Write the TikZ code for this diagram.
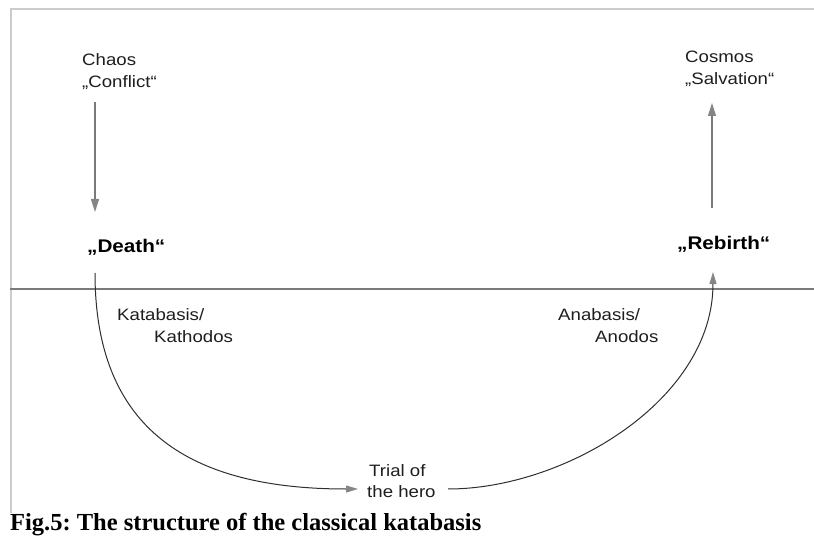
\documentclass[tikz,border=0pt]{standalone}
\usepackage{fontspec}
\setmainfont{Liberation Serif}
\newfontfamily\labfont[FakeStretch=1.13]{Liberation Sans}
\usetikzlibrary{arrows.meta}
\definecolor{framegray}{HTML}{CCCCCC}
\definecolor{linegray}{HTML}{7A7A7A}
\definecolor{tipgray}{HTML}{858585}
\definecolor{curvegray}{HTML}{2E2E2E}
\definecolor{txtgray}{HTML}{1E1E1E}
\frenchspacing
\begin{document}
\begin{tikzpicture}[x=1pt,y=-1pt,
  lbl/.style={font=\labfont\fontsize{16.5}{22}\selectfont, text=txtgray, inner sep=0, anchor=base west},
  bigl/.style={font=\labfont\bfseries\fontsize{18.3}{22}\selectfont, text=black, inner sep=0, anchor=base west},
  captiontext/.style={font=\bfseries\fontsize{24.5}{28}\selectfont, text=black, inner sep=0, anchor=base west},
  straightarrow/.style={draw=linegray, line width=1.2pt, -{Triangle[length=13pt,width=8pt,fill=tipgray,color=tipgray]}},
  curvearrow/.style={draw=curvegray, line width=1pt, -{Triangle[length=12pt,width=7pt,fill=tipgray,color=tipgray]}},
  framestyle/.style={draw=framegray, line width=2pt},
  divider/.style={draw=linegray, line width=1.2pt}]
\useasboundingbox (0,0) rectangle (814,540);
% frame
\draw[framestyle] (814,9.5) -- (10.5,9.5) -- (10.5,513);
% divider
\coordinate (hl) at (10,289);
\coordinate (hr) at (814,289);
\draw[divider] (hl) -- (hr);
% labels
\node[lbl] (chaos) at (82,66) {Chaos};
\node[lbl] (conflict) at (82,88) {„Conflict“};
\node[lbl] (cosmos) at (685,63) {Cosmos};
\node[lbl] (salvation) at (685,85) {„Salvation“};
\node[bigl] (death) at (87,253) {„Death“};
\node[bigl] (rebirth) at (677,250) {„Rebirth“};
\node[lbl] (kata1) at (117,320) {Katabasis/};
\node[lbl] (kata2) at (154,342) {Kathodos};
\node[lbl] (ana1) at (558,320) {Anabasis/};
\node[lbl] (ana2) at (595,342) {Anodos};
\node[lbl] (trial1) at (369,476) {Trial of};
\node[lbl] (trial2) at (367,497) {the hero};
\node[captiontext] (caption) at (10,530) {Fig.5: The structure of the classical katabasis};
% connector end points
\coordinate (chaosout) at (95,102);
\coordinate (deathin) at (95,212);
\coordinate (deathout) at (95,273);
\coordinate (trialin) at (358,489);
\coordinate (trialout) at (448,489);
\coordinate (rebirthin) at (713,272);
\coordinate (rebirthout) at (712,208);
\coordinate (cosmosin) at (712,103);
% connectors
\draw[straightarrow] (chaosout) -- (deathin);
\draw[curvearrow] (deathout) .. controls (95,430) and (190,489) .. (trialin);
\draw[curvearrow] (trialout) .. controls (565,489) and (713,400) .. (rebirthin);
\draw[straightarrow] (rebirthout) -- (cosmosin);
\end{tikzpicture}
\end{document}
